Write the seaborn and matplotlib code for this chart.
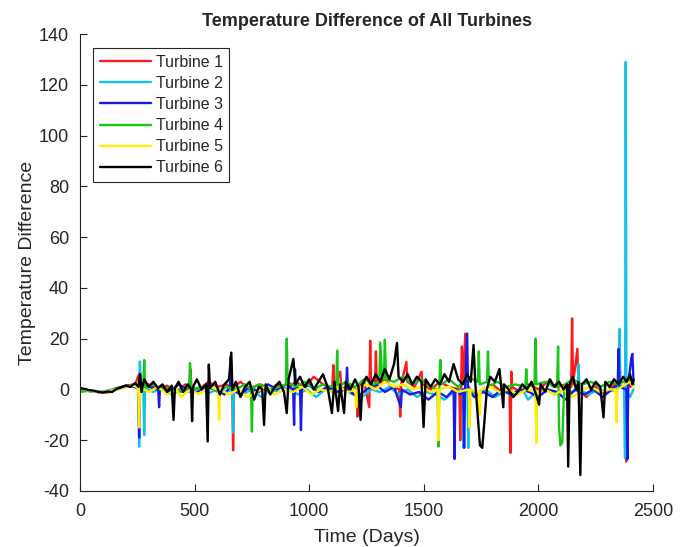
import pandas as pd
import numpy as np
import matplotlib
matplotlib.use("Agg")
import matplotlib.pyplot as plt
import seaborn as sns

# (day, temperature difference)
turbine1 = [(0, 0.3), (40, -0.5), (80, -1.0), (120, -1.2), (160, 0.0), (200, 1.5), (240, 2.0), (262, 7.0),
            (270, 0.5), (300, 2.0), (340, 0.0), (380, 1.5), (420, -1.0), (460, 2.0), (478, 0.0), (482, 8.0),
            (486, 1.0), (520, 0.0), (560, 3.0), (600, 1.0), (640, 2.0), (664, 0.0), (668, -24.0), (672, 1.0),
            (700, 3.0), (740, 0.0), (780, 2.0), (820, -1.0), (860, 2.0), (900, 0.0), (940, 3.0), (980, 1.0),
            (1020, 5.0), (1060, 2.0), (1100, 0.0), (1105, 9.6), (1110, 1.0), (1135, 7.0), (1140, 0.0),
            (1180, 2.0), (1206, 0.0), (1210, -10.7), (1214, 1.0), (1240, 3.0), (1262, -7.0), (1266, 19.2),
            (1270, 2.0), (1287, 1.0), (1291, 15.0), (1295, 2.0), (1330, 4.0), (1360, 1.0), (1393, 0.0),
            (1397, -10.7), (1401, 2.0), (1424, 10.8), (1428, 3.0), (1460, 1.0), (1490, 7.0), (1494, 2.0),
            (1530, 0.0), (1570, 3.0), (1610, 1.0), (1655, 0.0), (1659, -20.0), (1663, 2.0), (1666, 16.9),
            (1672, 3.0), (1681, 22.0), (1687, 2.0), (1720, -2.0), (1760, 0.0), (1800, 2.0), (1840, -1.0),
            (1874, 0.0), (1878, -25.0), (1882, 7.0), (1886, 1.0), (1920, -1.0), (1960, 2.0), (2000, 0.0),
            (2040, 3.0), (2080, 1.0), (2120, 2.0), (2143, 1.0), (2147, 28.0), (2151, 2.0), (2170, 16.0),
            (2175, 0.0), (2210, -3.0), (2250, 1.0), (2290, -2.0), (2330, 2.0), (2370, 1.0), (2379, 0.0),
            (2383, -28.4), (2387, 3.0), (2400, 1.0), (2415, 2.0)]

turbine2 = [(0, 0.5), (40, -0.8), (80, -1.0), (120, -0.5), (160, 0.5), (200, 1.0), (240, 1.5), (255, 0.0),
            (258, -22.5), (261, 11.0), (265, 0.0), (276, 1.0), (280, -18.0), (284, 0.5), (320, -1.0),
            (360, 1.0), (400, -2.0), (440, 0.0), (480, -1.0), (520, 1.0), (560, -1.5), (600, 0.0), (640, -1.0),
            (664, 0.0), (668, -17.0), (672, 0.0), (710, -2.0), (750, 0.0), (790, -3.0), (830, 0.0), (870, -1.0),
            (910, 1.0), (950, -2.0), (990, 0.0), (1030, -3.0), (1070, 0.0), (1110, -1.0), (1150, 0.0),
            (1190, -2.0), (1230, -3.0), (1270, 0.0), (1310, -1.0), (1350, 1.0), (1390, -2.0), (1430, 0.0),
            (1470, -3.0), (1510, -1.0), (1550, -2.0), (1590, -4.0), (1630, -1.0), (1670, 0.0), (1674, -23.0),
            (1678, 0.0), (1690, 2.0), (1694, -23.0), (1698, 0.0), (1730, -2.0), (1770, 0.0), (1810, -3.0),
            (1850, -1.0), (1890, -2.0), (1930, 0.0), (1955, -4.0), (1990, -1.0), (2030, 0.0), (2070, -2.0),
            (2110, 0.0), (2150, -1.0), (2172, 0.0), (2175, 10.0), (2179, 0.0), (2220, -2.0), (2260, 0.0),
            (2300, -1.0), (2340, 0.0), (2350, 3.0), (2354, 23.8), (2358, 2.0), (2374, 0.0), (2378, -27.0),
            (2381, 129.0), (2384, 0.0), (2400, -3.0), (2415, 0.0)]

turbine3 = [(0, 0.5), (40, -0.5), (80, -1.0), (120, -1.0), (160, 0.5), (200, 1.5), (240, 1.0), (254, 0.0),
            (258, -19.0), (262, 3.0), (300, 1.0), (341, 0.0), (345, -7.0), (349, 1.0), (390, -1.0), (430, 2.0),
            (470, 0.0), (510, -1.0), (550, 1.0), (590, 0.0), (630, -2.0), (654, 1.0), (658, 13.0), (662, 0.0),
            (700, -2.0), (740, 1.0), (780, -1.0), (820, 2.0), (860, 0.0), (900, 2.0), (930, 0.0), (934, -14.0),
            (938, 8.0), (942, 1.0), (960, 0.0), (964, -16.0), (968, 0.0), (1000, 2.0), (1040, -1.0),
            (1080, 1.0), (1120, -1.0), (1161, 0.0), (1165, 8.6), (1169, 0.0), (1210, -3.0), (1250, 0.0),
            (1290, 2.0), (1330, -1.0), (1370, 1.0), (1400, -7.0), (1404, 0.0), (1440, -2.0), (1480, -1.0),
            (1520, -4.0), (1560, -1.0), (1600, -3.0), (1630, 0.0), (1634, -27.4), (1638, 0.0), (1660, -2.0),
            (1672, 0.0), (1676, -23.0), (1680, 0.0), (1689, 22.0), (1693, 0.0), (1720, -3.0), (1760, -1.0),
            (1800, -3.0), (1840, 0.0), (1880, -2.0), (1920, 0.0), (1960, -1.0), (2000, -3.0), (2040, 0.0),
            (2080, -1.0), (2120, -4.0), (2160, 0.0), (2200, -2.0), (2240, 0.0), (2280, -3.0), (2320, 0.0),
            (2346, 2.0), (2350, 16.0), (2354, 1.0), (2384, 0.0), (2388, -27.5), (2392, 2.0), (2405, 12.0),
            (2410, 14.0), (2415, 3.0)]

turbine4 = [(0, -1.0), (40, -0.5), (80, -1.0), (120, -0.8), (160, 0.5), (200, 1.0), (240, 2.0), (276, 1.0),
            (280, 11.6), (284, 0.5), (320, 2.0), (360, 0.0), (400, 1.0), (440, -1.0), (476, 1.0), (480, 10.4),
            (484, 1.0), (520, 0.0), (560, 2.0), (600, -1.0), (640, 1.0), (680, 0.0), (720, 2.0), (746, 0.0),
            (750, -16.6), (754, 1.0), (790, 2.0), (830, 0.0), (870, 1.0), (898, 2.0), (902, 20.0), (906, 3.0),
            (940, 1.0), (980, 3.0), (1020, 0.0), (1060, 2.0), (1100, 1.0), (1118, 2.0), (1122, 15.3),
            (1126, 1.0), (1160, 3.0), (1200, 1.0), (1240, 4.0), (1280, 2.0), (1306, 3.0), (1310, 18.5),
            (1318, 5.0), (1326, 4.0), (1330, 19.6), (1336, 4.0), (1370, 3.0), (1410, 5.0), (1450, 2.0),
            (1490, 4.0), (1530, 1.0), (1560, 0.0), (1564, -22.5), (1568, 2.0), (1572, 11.6), (1576, 2.0),
            (1610, 4.0), (1650, 1.0), (1690, 5.0), (1736, 3.0), (1740, 15.0), (1744, 2.0), (1776, 3.0),
            (1780, 15.0), (1784, 1.0), (1820, 3.0), (1860, 1.0), (1900, 2.0), (1943, 1.0), (1947, 8.0),
            (1951, 1.0), (1983, 2.0), (1987, 20.0), (1991, 2.0), (2030, 3.0), (2070, 1.0), (2082, 3.0),
            (2086, 16.9), (2090, -15.0), (2096, -22.0), (2104, -21.0), (2110, -5.0), (2116, 2.0), (2150, 4.0),
            (2190, 2.0), (2230, 3.0), (2270, 1.0), (2310, 3.0), (2350, 2.0), (2390, 4.0), (2415, 2.0)]

turbine5 = [(0, 0.5), (40, -0.5), (80, -1.0), (120, -0.8), (160, 0.0), (200, 1.0), (240, 1.5), (254, 0.0),
            (258, -15.0), (262, 1.0), (300, -1.0), (340, 1.0), (380, -2.0), (420, 0.0), (440, -3.0), (480, 0.0),
            (520, -2.0), (560, 1.0), (603, 0.0), (607, -12.0), (611, 0.0), (650, -2.0), (690, 0.0), (730, -3.0),
            (770, -1.0), (810, 1.0), (850, -2.0), (890, 0.0), (930, -1.0), (970, 1.0), (1010, -2.0),
            (1050, 0.0), (1090, -1.0), (1130, 1.0), (1170, -1.0), (1201, 0.0), (1205, -7.0), (1209, 0.0),
            (1250, 2.0), (1290, 0.0), (1330, 3.0), (1370, 1.0), (1410, 2.0), (1450, 0.0), (1490, 1.0),
            (1530, -1.0), (1560, 0.0), (1564, -20.0), (1568, 0.0), (1610, 1.0), (1650, -1.0), (1696, 0.0),
            (1700, -15.0), (1704, 0.0), (1740, -1.0), (1744, -10.0), (1748, 0.0), (1790, 1.0), (1830, -1.0),
            (1870, 0.0), (1910, -2.0), (1950, 0.0), (1987, -1.0), (1991, -21.0), (1995, -1.0), (2030, 0.0),
            (2070, -2.0), (2110, 0.0), (2150, -3.0), (2190, 0.0), (2230, 1.0), (2270, -1.0), (2310, 0.0),
            (2337, 0.0), (2341, -13.0), (2345, 0.0), (2380, 2.0), (2400, 3.0), (2415, 1.0)]

turbine6 = [(0, 0.5), (20, 0.2), (40, -0.3), (60, -0.5), (80, -1.0), (100, -1.2), (120, -0.8), (140, -1.0),
            (160, 0.2), (180, 0.8), (200, 1.5), (220, 1.0), (240, 2.5), (255, 1.0), (262, 6.0), (268, -1.0),
            (280, 4.0), (300, 1.0), (320, 3.0), (340, 0.5), (360, 2.0), (380, -1.0), (400, 1.5), (408, -12.0),
            (414, 0.5), (430, 3.0), (450, -1.0), (470, 2.0), (485, 0.0), (489, -12.5), (493, 1.0), (510, 4.0),
            (530, 0.0), (550, 2.0), (557, -20.5), (562, 9.8), (567, 0.5), (590, 3.0), (610, -2.0), (630, 2.0),
            (650, 4.0), (660, 14.5), (665, 0.0), (680, 3.0), (700, -3.0), (720, 1.0), (740, 3.0), (760, -4.0),
            (780, 1.0), (795, 0.0), (803, -14.0), (810, 2.0), (830, -2.0), (850, 1.0), (870, 3.0), (890, -1.0),
            (902, -9.3), (910, 4.0), (931, 12.0), (940, 2.0), (960, 5.0), (980, 1.0), (1000, 4.0), (1020, 0.0),
            (1040, 3.0), (1060, 6.0), (1080, 1.0), (1099, -9.3), (1110, 3.0), (1126, -8.5), (1135, 2.0),
            (1152, -9.3), (1160, 3.0), (1180, 0.0), (1200, 4.0), (1215, 1.0), (1224, -12.0), (1232, 2.0),
            (1250, 5.0), (1270, 2.0), (1290, 6.0), (1310, 3.0), (1330, 8.0), (1350, 4.0), (1370, 10.0),
            (1383, 18.3), (1390, 5.0), (1410, 3.0), (1430, 6.0), (1450, 2.0), (1470, 5.0), (1490, 3.0),
            (1499, -14.8), (1508, 4.0), (1530, 1.0), (1550, 4.0), (1570, 2.0), (1590, 6.0), (1610, 3.0),
            (1630, 10.0), (1650, 4.0), (1670, 2.0), (1690, 6.0), (1705, 3.0), (1717, 17.5), (1725, 2.0),
            (1735, -10.0), (1745, -22.0), (1755, -23.0), (1765, -12.0), (1775, 0.0), (1790, 5.0), (1810, 3.0),
            (1830, 8.0), (1847, -7.0), (1850, 2.0), (1870, 0.0), (1890, -3.0), (1910, -1.0), (1930, 2.0),
            (1950, 0.0), (1970, 3.0), (1990, -2.0), (2003, -6.0), (2010, 2.0), (2030, -1.0), (2050, 4.0),
            (2070, 1.0), (2090, 3.0), (2110, 0.0), (2125, 2.0), (2130, -30.4), (2136, 2.0), (2150, 5.0),
            (2165, 0.0), (2175, 3.0), (2183, -33.7), (2190, 2.0), (2210, 4.0), (2230, 0.0), (2250, 3.0),
            (2270, 1.0), (2284, -11.0), (2292, 3.0), (2310, 1.0), (2330, 4.0), (2350, 2.0), (2370, 5.0),
            (2385, 3.0), (2400, 6.0), (2410, 2.0), (2415, 4.0)]

names = ["Turbine 1", "Turbine 2", "Turbine 3", "Turbine 4", "Turbine 5", "Turbine 6"]
colors = ["#ff1a1a", "#12c0ec", "#1a1ae6", "#16c816", "#ffee00", "#000000"]
series = [turbine1, turbine2, turbine3, turbine4, turbine5, turbine6]

rows = []
for name, pts in zip(names, series):
    for d, v in pts:
        rows.append((name, d, v))
df = pd.DataFrame(rows, columns=["turbine", "day", "diff"])

sns.set_style("white")
plt.rcParams["font.family"] = ["Liberation Sans", "DejaVu Sans"]
plt.rcParams["axes.unicode_minus"] = False

fig = plt.figure(figsize=(6.91, 5.47), dpi=100)
ax = fig.add_axes([0.1158, 0.1024, 0.8292, 0.8354])

sns.lineplot(data=df, x="day", y="diff", hue="turbine", hue_order=names,
             palette=dict(zip(names, colors)), estimator=None, errorbar=None,
             linewidth=1.7, ax=ax)

ax.set_xlim(0, 2500)
ax.set_ylim(-40, 140)
ax.set_xticks(np.arange(0, 2501, 500))
ax.set_yticks(np.arange(-40, 141, 20))
for s in ["top", "right"]:
    ax.spines[s].set_visible(False)
for s in ["left", "bottom"]:
    ax.spines[s].set_color("#262626")
    ax.spines[s].set_linewidth(0.8)
ax.tick_params(direction="in", length=5, width=0.8, colors="#262626", labelsize=13,
               left=True, bottom=True)
ax.tick_params(axis="x", pad=9)
ax.tick_params(axis="y", pad=8)

ax.set_title("Temperature Difference of All Turbines", fontsize=13, fontweight="bold", pad=6)
ax.set_xlabel("Time (Days)", fontsize=14, color="#262626", labelpad=6)
ax.set_ylabel("Temperature Difference", fontsize=14, color="#262626", labelpad=2)

leg = ax.legend(loc="upper left", bbox_to_anchor=(0.0227, 0.969), fontsize=11.5,
                frameon=True, fancybox=False, edgecolor="#262626", framealpha=1,
                handlelength=3.2, labelspacing=0.38, borderpad=0.42, handletextpad=0.3,
                borderaxespad=0)
leg.get_frame().set_linewidth(0.8)

fig.savefig("out.png", dpi=100)
